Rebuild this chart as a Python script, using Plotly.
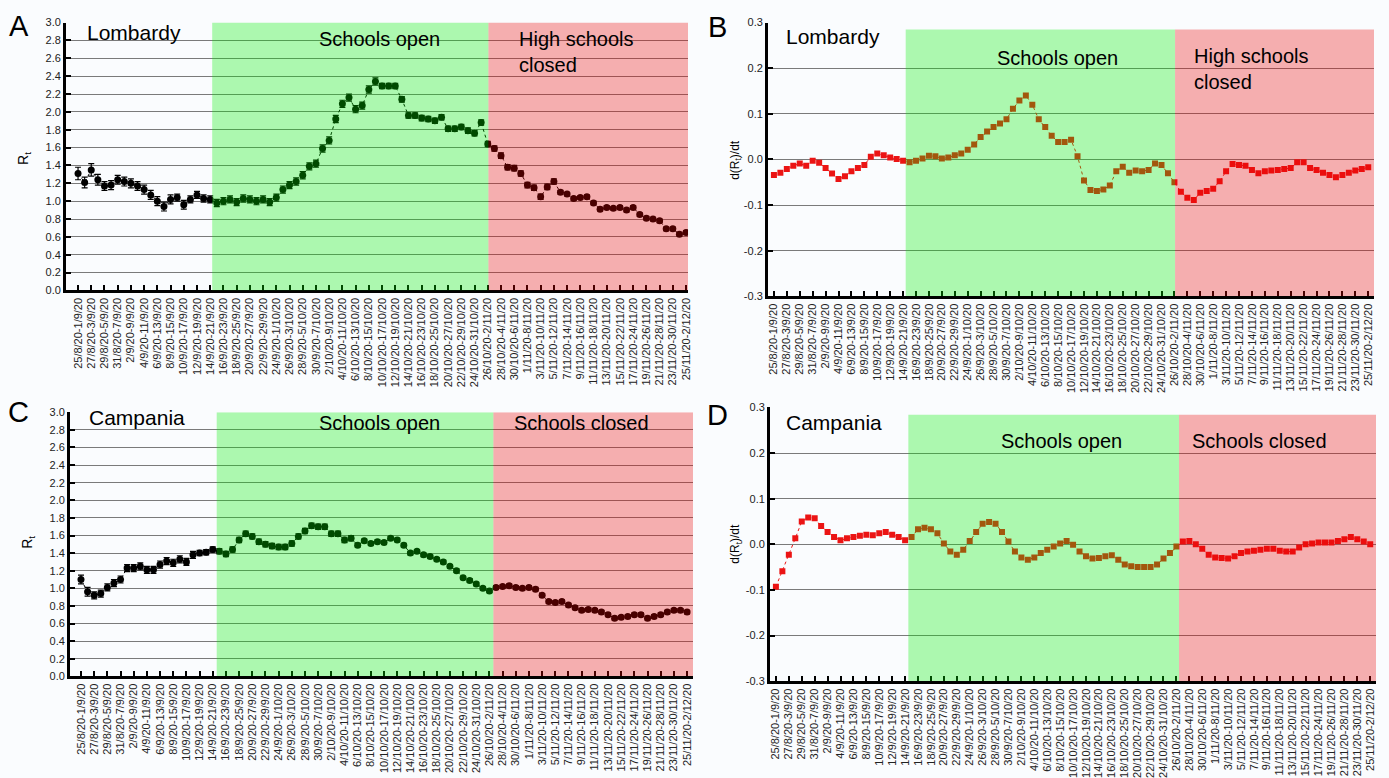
import datetime as dt
import plotly.graph_objects as go

W, H = 1389, 778

# ---------------- data ----------------
START = dt.date(2020, 8, 25)
N_DAYS = 93


def _lbl(d):
    e = d + dt.timedelta(days=7)
    return f"{d.day}/{d.month}/20-{e.day}/{e.month}/20"


CATEGORIES = [_lbl(START + dt.timedelta(days=i)) for i in range(N_DAYS)]
TICK_LABELS = CATEGORIES[::2]

LOMB_RT = [1.31, 1.21, 1.35, 1.24, 1.17, 1.18, 1.24, 1.22, 1.20, 1.17,
           1.13, 1.07, 1.00, 0.94, 1.02, 1.04, 0.96, 1.02, 1.07, 1.03,
           1.02, 0.98, 1.00, 1.02, 0.99, 1.03, 1.02, 1.00, 1.02, 0.99,
           1.04, 1.13, 1.18, 1.22, 1.29, 1.39, 1.42, 1.59, 1.68, 1.92,
           2.09, 2.16, 2.03, 2.07, 2.25, 2.34, 2.29, 2.29, 2.29, 2.14,
           1.96, 1.96, 1.93, 1.92, 1.90, 1.94, 1.81, 1.81, 1.83, 1.79,
           1.76, 1.88, 1.64, 1.59, 1.51, 1.38, 1.37, 1.31, 1.18, 1.15,
           1.05, 1.16, 1.22, 1.10, 1.08, 1.03, 1.04, 1.05, 0.98, 0.91,
           0.93, 0.92, 0.93, 0.90, 0.93, 0.85, 0.81, 0.80, 0.78, 0.69,
           0.69, 0.63, 0.65]
LOMB_RT_ERR = [0.07, 0.06, 0.07, 0.06, 0.05, 0.05, 0.05, 0.05, 0.05, 0.05,
               0.05, 0.05, 0.05, 0.05, 0.05, 0.04, 0.05, 0.04, 0.04, 0.04,
               0.04, 0.04, 0.04, 0.04, 0.04, 0.04, 0.04, 0.04, 0.04, 0.04,
               0.04, 0.04, 0.04, 0.04, 0.04, 0.04, 0.04, 0.04, 0.04, 0.04,
               0.04, 0.04, 0.04, 0.04, 0.04, 0.04, 0.03, 0.03, 0.03, 0.03,
               0.03, 0.03, 0.03, 0.03, 0.03, 0.03, 0.03, 0.03, 0.03, 0.03,
               0.03, 0.03, 0.03, 0.03, 0.03, 0.03, 0.03, 0.03, 0.03, 0.03,
               0.03, 0.03, 0.03, 0.02, 0.02, 0.02, 0.02, 0.02, 0.02, 0.02,
               0.02, 0.02, 0.02, 0.02, 0.02, 0.02, 0.02, 0.02, 0.02, 0.02,
               0.02, 0.02, 0.02]

LOMB_DRDT = [-0.034, -0.029, -0.021, -0.014, -0.009, -0.014, -0.003, -0.007, -0.019, -0.031,
             -0.043, -0.037, -0.026, -0.019, -0.012, 0.006, 0.013, 0.009, 0.004, 0.001,
             -0.003, -0.006, -0.003, 0.002, 0.008, 0.007, 0.002, 0.004, 0.009, 0.013,
             0.021, 0.033, 0.049, 0.061, 0.071, 0.079, 0.088, 0.111, 0.129, 0.140,
             0.120, 0.088, 0.071, 0.052, 0.038, 0.038, 0.043, 0.007, -0.046, -0.067,
             -0.069, -0.066, -0.057, -0.026, -0.016, -0.029, -0.024, -0.026, -0.023, -0.009,
             -0.012, -0.030, -0.050, -0.071, -0.084, -0.089, -0.073, -0.069, -0.064, -0.048,
             -0.026, -0.010, -0.012, -0.014, -0.023, -0.030, -0.026, -0.024, -0.023, -0.021,
             -0.019, -0.006, -0.006, -0.019, -0.023, -0.029, -0.034, -0.039, -0.034, -0.029,
             -0.024, -0.021, -0.017]

CAMP_RT = [1.10, 0.96, 0.92, 0.94, 1.01, 1.06, 1.10, 1.23, 1.23, 1.25,
           1.21, 1.21, 1.27, 1.31, 1.29, 1.33, 1.30, 1.38, 1.40, 1.41,
           1.44, 1.42, 1.39, 1.44, 1.55, 1.62, 1.59, 1.53, 1.50, 1.48,
           1.47, 1.47, 1.51, 1.59, 1.65, 1.71, 1.70, 1.70, 1.62, 1.62,
           1.55, 1.57, 1.49, 1.54, 1.51, 1.53, 1.52, 1.57, 1.55, 1.49,
           1.40, 1.42, 1.38, 1.36, 1.33, 1.30, 1.25, 1.20, 1.12, 1.09,
           1.05, 1.00, 0.97, 1.01, 1.02, 1.03, 1.01, 1.00, 1.01, 0.99,
           0.92, 0.85, 0.84, 0.85, 0.81, 0.78, 0.75, 0.76, 0.75, 0.73,
           0.70, 0.66, 0.67, 0.68, 0.70, 0.70, 0.66, 0.68, 0.70, 0.73,
           0.75, 0.75, 0.73]
CAMP_RT_ERR = [0.05, 0.05, 0.04, 0.04, 0.04, 0.04, 0.04, 0.04, 0.04, 0.04,
               0.04, 0.04, 0.04, 0.04, 0.04, 0.04, 0.04, 0.04, 0.03, 0.03,
               0.03, 0.03, 0.03, 0.03, 0.03, 0.03, 0.03, 0.03, 0.03, 0.03,
               0.03, 0.03, 0.03, 0.03, 0.03, 0.03, 0.03, 0.03, 0.03, 0.03,
               0.03, 0.03, 0.02, 0.02, 0.02, 0.02, 0.02, 0.02, 0.02, 0.02,
               0.02, 0.02, 0.02, 0.02, 0.02, 0.02, 0.02, 0.02, 0.02, 0.02,
               0.02, 0.02, 0.02, 0.02, 0.02, 0.02, 0.02, 0.02, 0.02, 0.02,
               0.02, 0.02, 0.02, 0.02, 0.02, 0.02, 0.02, 0.02, 0.02, 0.02,
               0.02, 0.02, 0.02, 0.02, 0.02, 0.02, 0.02, 0.02, 0.02, 0.02,
               0.02, 0.02, 0.02]

CAMP_DRDT = [-0.093, -0.059, -0.023, 0.013, 0.050, 0.059, 0.057, 0.040, 0.027, 0.016,
             0.009, 0.013, 0.016, 0.019, 0.021, 0.020, 0.024, 0.027, 0.021, 0.016,
             0.009, 0.016, 0.033, 0.036, 0.033, 0.024, 0.002, -0.016, -0.023, -0.012,
             0.007, 0.027, 0.045, 0.049, 0.045, 0.027, 0.006, -0.016, -0.029, -0.034,
             -0.029, -0.019, -0.012, -0.005, 0.002, 0.007, -0.001, -0.016, -0.026, -0.031,
             -0.030, -0.026, -0.024, -0.034, -0.044, -0.048, -0.050, -0.050, -0.050, -0.044,
             -0.031, -0.019, -0.005, 0.006, 0.007, 0.000, -0.010, -0.023, -0.029, -0.030,
             -0.031, -0.026, -0.019, -0.016, -0.014, -0.012, -0.010, -0.010, -0.014, -0.016,
             -0.016, -0.007, 0.000, 0.002, 0.004, 0.004, 0.004, 0.007, 0.011, 0.016,
             0.011, 0.006, 0.000]

# ---------------- layout helpers ----------------
FONT = "Liberation Sans Narrow, Arial Narrow, Liberation Sans, Arial, sans-serif"
FONT_MAIN = "Liberation Sans, Arial, sans-serif"
BG = "#fafcfe"
GREEN = "rgb(0,239,0)"
RED = "rgb(235,0,0)"
SHADE_OPACITY = 0.31


def px(x):
    return x / W


def py(y):
    return 1 - y / H


# panel geometry (pixels): left, right, top, bottom; x range; shading boundaries
PANELS = [
    dict(name="A", L=66, R=690, T=17, B=292, xr=[-1.85, 92.3], yr=[0, 3.0],
         g=20.3, r=62.1, stop=3.0),
    dict(name="B", L=770, R=1378, T=17, B=298, xr=[-0.95, 92.9], yr=[-0.3, 0.3],
         g=20.4, r=62.1, stop=0.285),
    dict(name="C", L=70, R=695, T=417, B=688, xr=[-1.7, 92.9], yr=[0, 3.0],
         g=20.6, r=62.6, stop=3.0),
    dict(name="D", L=772, R=1380, T=412, B=693, xr=[-0.95, 92.9], yr=[-0.3, 0.3],
         g=20.5, r=62.4, stop=0.284),
]

fig = go.Figure()

rt_traces = [(LOMB_RT, LOMB_RT_ERR), None, (CAMP_RT, CAMP_RT_ERR), None]
dr_traces = [None, LOMB_DRDT, None, CAMP_DRDT]

shapes = []
annotations = []
layout_axes = {}

for i, p in enumerate(PANELS):
    k = "" if i == 0 else str(i + 1)
    xa, ya = "x" + k, "y" + k
    if p["name"] in ("A", "C"):
        vals, err = rt_traces[i]
        fig.add_trace(go.Scatter(
            x=CATEGORIES, y=vals, xaxis=xa, yaxis=ya, mode="lines+markers",
            line=dict(color="black", width=1, dash="dot"),
            marker=dict(color="black", size=7, symbol="circle"),
            error_y=dict(type="data", array=err, color="black", thickness=1.2, width=3),
            showlegend=False, hoverinfo="y"))
        ticks = [0, 0.2, 0.4, 0.6, 0.8, 1.0, 1.2, 1.4, 1.6, 1.8, 2.0, 2.2, 2.4, 2.6, 2.8, 3.0]
        ticktext = [f"{t:.1f}" for t in ticks]
    else:
        vals = dr_traces[i]
        fig.add_trace(go.Scatter(
            x=CATEGORIES, y=vals, xaxis=xa, yaxis=ya, mode="lines+markers",
            line=dict(color="rgb(235,20,20)", width=1, dash="dot"),
            marker=dict(color="rgb(235,20,20)", size=6, symbol="square"),
            showlegend=False, hoverinfo="y"))
        ticks = [-0.3, -0.2, -0.1, 0.0, 0.1, 0.2, 0.3]
        ticktext = [f"{t:.1f}" for t in ticks]

    layout_axes["xaxis" + k] = dict(
        domain=[px(p["L"]), px(p["R"])], anchor=ya, type="category",
        categoryorder="array", categoryarray=CATEGORIES,
        range=p["xr"], tickmode="array", tickvals=TICK_LABELS, ticktext=TICK_LABELS,
        tickangle=-90, tickfont=dict(family=FONT, size=11, color="#222"),
        ticks="inside", ticklen=5, tickwidth=2, tickcolor="black",
        showline=True, linecolor="black", linewidth=3, showgrid=False,
        zeroline=False, fixedrange=True)
    layout_axes["yaxis" + k] = dict(
        domain=[py(p["B"]), py(p["T"])], anchor=xa, range=p["yr"],
        tickmode="array", tickvals=ticks, ticktext=ticktext,
        tickfont=dict(family=FONT, size=11, color="#222"),
        ticks="inside", ticklen=5, tickwidth=2, tickcolor="black",
        showline=True, linecolor="black", linewidth=2.5,
        showgrid=True, gridcolor="#7a7a7a", gridwidth=1,
        zeroline=False, fixedrange=True)

    # shaded periods (drawn above markers with transparency, tinting them)
    shapes.append(dict(type="rect", xref=xa, yref=ya, x0=p["g"], x1=p["r"],
                       y0=p["yr"][0], y1=p["stop"], fillcolor=GREEN,
                       opacity=SHADE_OPACITY, line=dict(width=0), layer="above"))
    shapes.append(dict(type="rect", xref=xa, yref=ya, x0=p["r"], x1=p["xr"][1],
                       y0=p["yr"][0], y1=p["stop"], fillcolor=RED,
                       opacity=SHADE_OPACITY, line=dict(width=0), layer="above"))


def ann(text, x, y, size, xanchor="left", yanchor="middle", angle=0, family=FONT_MAIN):
    annotations.append(dict(text=text, x=px(x), y=py(y), xref="paper", yref="paper",
                            xanchor=xanchor, yanchor=yanchor, showarrow=False,
                            align=xanchor if xanchor in ("left", "right") else "center",
                            textangle=angle, font=dict(family=family, size=size, color="black")))


# panel letters
ann("A", 19, 21, 29, "center")
ann("B", 720, 22, 29, "center")
ann("C", 19, 417, 29, "center")
ann("D", 720, 420, 29, "center")

# region names
ann("Lombardy", 85, 27, 21)
ann("Lombardy", 786, 31, 21)
ann("Campania", 87, 422, 21)
ann("Campania", 786, 428, 21)

# period labels
ann("Schools open", 381, 34, 20, "center")
ann("High schools<br>closed", 518, 47, 20)
ann("Schools open", 1061, 53, 20, "center")
ann("High schools<br>closed", 1195, 65, 20)
ann("Schools open", 381, 428, 20, "center")
ann("Schools closed", 513, 428, 20)
ann("Schools open", 1065, 446, 20, "center")
ann("Schools closed", 1193, 446, 20)

# y axis titles
ann("R<sub>t</sub>", 24, 156, 14, "center", angle=-90)
ann("d(R<sub>t</sub>)/dt", 738, 158, 12, "center", angle=-90)
ann("R<sub>t</sub>", 28, 550, 14, "center", angle=-90)
ann("d(R<sub>t</sub>)/dt", 738, 552, 12, "center", angle=-90)

fig.update_layout(
    width=W, height=H, margin=dict(l=0, r=0, t=0, b=0),
    paper_bgcolor=BG, plot_bgcolor=BG, showlegend=False,
    shapes=shapes, annotations=annotations,
    font=dict(family=FONT_MAIN, color="black"),
    **layout_axes)

fig.write_html("out.html", config=dict(displayModeBar=False))
